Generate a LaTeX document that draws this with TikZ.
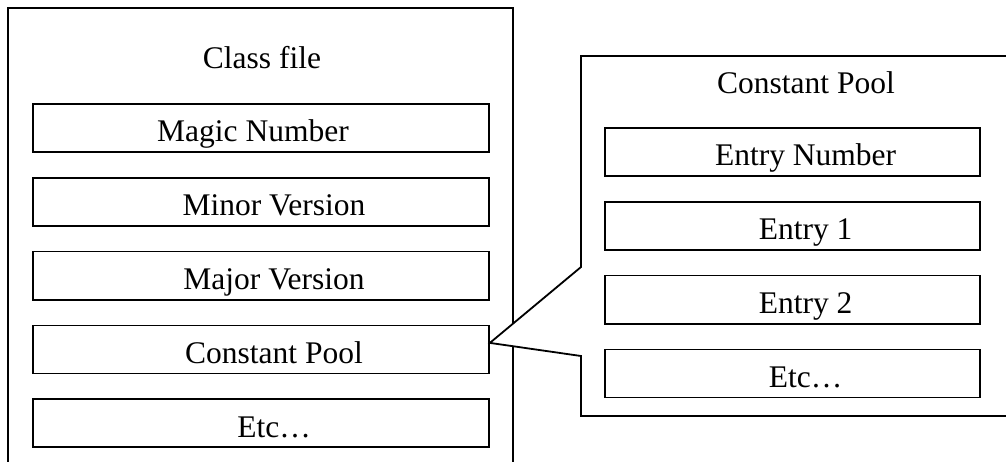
\documentclass[tikz,border=0pt]{standalone}
\usepackage{fontspec}
\setmainfont{Liberation Serif}
\usetikzlibrary{positioning, backgrounds}
\tikzset{
	frame/.style={draw=black, line width=1.8pt},
	field/.style={draw=black, line width=1.8pt, minimum width=456pt, minimum height=48pt, inner sep=0pt},
	entry/.style={field, minimum width=375pt},
	txt/.style={anchor=base, inner sep=0pt, font=\fontsize{31.5}{38}\selectfont},
}
\begin{document}
\begin{tikzpicture}[x=1pt, y=-1pt]
	\path[use as bounding box, clip] (0,0) rectangle (1006,462);
	% class file fields
	\node[field] (magic) at (261,128) {};
	\node[field, below=24pt of magic] (minor) {};
	\node[field, below=24pt of minor] (major) {};
	\node[field, below=24pt of major] (cpool) {};
	\node[field, below=24pt of cpool] (etc) {};
	\node[txt] (cftitle) at (262,69) {Class file};
	\node[txt] (magict) at ([xshift=-8pt, yshift=-14pt]magic.center) {Magic Number};
	\node[txt] (minort) at ([xshift=13pt, yshift=-14pt]minor.center) {Minor Version};
	\node[txt] (majort) at ([xshift=13pt, yshift=-14pt]major.center) {Major Version};
	\node[txt] (cpoolt) at ([xshift=13pt, yshift=-14pt]cpool.center) {Constant Pool};
	\node[txt] (etct) at ([xshift=13pt, yshift=-14pt]etc.center) {Etc\dots};
	% constant pool entries
	\node[entry] (enum) at (792.6,152) {};
	\node[entry, below=24pt of enum] (ent1) {};
	\node[entry, below=24pt of ent1] (ent2) {};
	\node[entry, below=24pt of ent2] (eetc) {};
	\node[txt] (cptitle) at (806,94) {Constant Pool};
	\node[txt] (enumt) at ([xshift=13pt, yshift=-14pt]enum.center) {Entry Number};
	\node[txt] (ent1t) at ([xshift=13pt, yshift=-14pt]ent1.center) {Entry 1};
	\node[txt] (ent2t) at ([xshift=13pt, yshift=-14pt]ent2.center) {Entry 2};
	\node[txt] (eetct) at ([xshift=13pt, yshift=-14pt]eetc.center) {Etc\dots};
	\coordinate (tip) at ([yshift=6.5pt]cpool.east);
	\begin{scope}[on background layer]
		\draw[frame] (8,8) rectangle (513,490);
		\draw[frame, fill=white] (tip) -- (581,267) -- (581,56) -- (1030,56) -- (1030,416)
			-- (581,416) -- (581,356) -- cycle;
	\end{scope}
\end{tikzpicture}
\end{document}
